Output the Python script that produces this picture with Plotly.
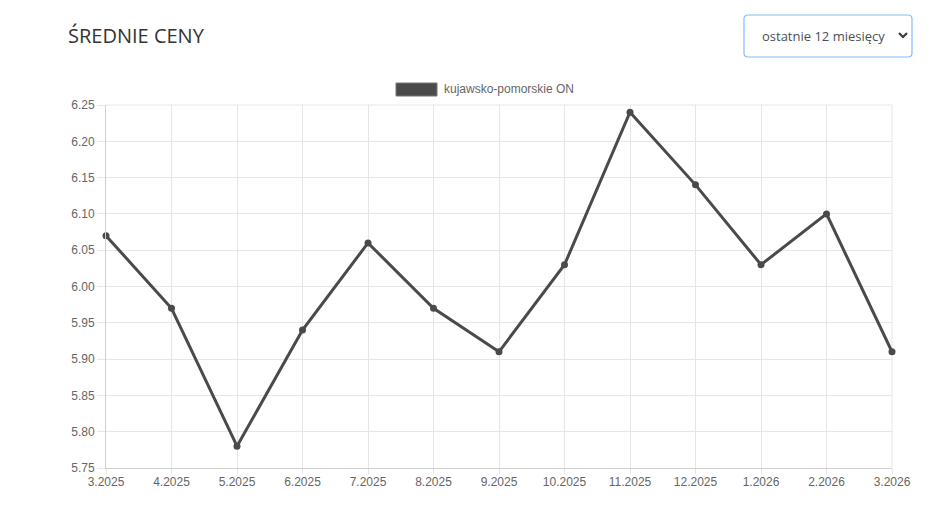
import plotly.graph_objects as go

months = ["3.2025", "4.2025", "5.2025", "6.2025", "7.2025", "8.2025", "9.2025",
          "10.2025", "11.2025", "12.2025", "1.2026", "2.2026", "3.2026"]
prices = [6.07, 5.97, 5.78, 5.94, 6.06, 5.97, 5.91, 6.03, 6.24, 6.14, 6.03, 6.10, 5.91]
y_ticks = [5.75, 5.80, 5.85, 5.90, 5.95, 6.00, 6.05, 6.10, 6.15, 6.20, 6.25]
series_name = "kujawsko-pomorskie ON"
title_text = "ŚREDNIE CENY"
dropdown_text = "ostatnie 12 miesięcy"

OFF = 8  # page body margin
W, H = 937 - 2 * OFF, 507 - 2 * OFF
L, R, T, B = 106, 892, 105, 468  # target page pixel positions


def px(x):
    return (x - L) / (R - L)


def py(y):
    return (B - y) / (B - T)


line_color = "#4a4a4a"
idx = list(range(len(months)))

fig = go.Figure()
fig.add_trace(go.Scatter(
    x=idx, y=prices, mode="lines+markers", name=series_name,
    line=dict(color=line_color, width=3),
    marker=dict(color=line_color, size=7),
    showlegend=False, cliponaxis=False,
))

shapes = []
x0, x1, y0, y1, r = 744, 912, 15, 57, 4
path = (f"M {px(x0 + r)},{py(y0)} L {px(x1 - r)},{py(y0)} Q {px(x1)},{py(y0)} {px(x1)},{py(y0 + r)} "
        f"L {px(x1)},{py(y1 - r)} Q {px(x1)},{py(y1)} {px(x1 - r)},{py(y1)} "
        f"L {px(x0 + r)},{py(y1)} Q {px(x0)},{py(y1)} {px(x0)},{py(y1 - r)} "
        f"L {px(x0)},{py(y0 + r)} Q {px(x0)},{py(y0)} {px(x0 + r)},{py(y0)} Z")
shapes.append(dict(type="path", xref="paper", yref="paper", path=path,
                   line=dict(color="#80bdff", width=1.2), fillcolor="white", layer="above"))
shapes.append(dict(type="path", xref="paper", yref="paper",
                   path=f"M {px(899)},{py(33)} L {px(903)},{py(37)} L {px(907)},{py(33)}",
                   line=dict(color="#343a40", width=2.2), layer="above"))
shapes.append(dict(type="rect", xref="paper", yref="paper",
                   x0=px(396), x1=px(437), y0=py(96), y1=py(83),
                   fillcolor=line_color, line=dict(color="#777777", width=1)))
shapes.append(dict(type="line", xref="paper", yref="paper", x0=1, x1=1, y0=0, y1=1,
                   line=dict(color="#e6e6e6", width=1), layer="below"))
shapes.append(dict(type="line", xref="paper", yref="paper", x0=0, x1=1, y0=1, y1=1,
                   line=dict(color="#e6e6e6", width=1), layer="below"))

annotations = [
    dict(text=title_text, x=px(66), y=py(36), xref="paper", yref="paper",
         xanchor="left", yanchor="middle", showarrow=False,
         font=dict(family="Open Sans", size=20, color="#333333")),
    dict(text=dropdown_text, x=px(760), y=py(36), xref="paper", yref="paper",
         xanchor="left", yanchor="middle", showarrow=False,
         font=dict(family="Open Sans", size=13, color="#495057")),
    dict(text=series_name, x=px(442), y=py(89), xref="paper", yref="paper",
         xanchor="left", yanchor="middle", showarrow=False,
         font=dict(family="Liberation Sans, Arial", size=12, color="#666666")),
]

fig.update_layout(
    width=W, height=H,
    margin=dict(l=L - OFF, r=W - (R - OFF), t=T - OFF, b=H - (B - OFF), pad=0),
    paper_bgcolor="white", plot_bgcolor="white",
    shapes=shapes, annotations=annotations,
    font=dict(family="Liberation Sans, Arial", size=12, color="#666666"),
    xaxis=dict(
        range=[0, len(months) - 1], tickvals=idx, ticktext=months,
        showgrid=True, gridcolor="#e6e6e6", gridwidth=1,
        ticks="outside", ticklen=5, tickcolor="#e6e6e6",
        ticklabelstandoff=-2,
        showline=True, linecolor="#d0d0d0", linewidth=1,
        zeroline=False, tickfont=dict(size=12, color="#666666"),
        automargin=False,
    ),
    yaxis=dict(
        range=[5.75, 6.25], tickvals=y_ticks, ticktext=[f"{v:.2f}" for v in y_ticks],
        showgrid=True, gridcolor="#e6e6e6", gridwidth=1,
        ticks="outside", ticklen=8, tickcolor="#e6e6e6",
        showline=True, linecolor="#d0d0d0", linewidth=1,
        zeroline=False, tickfont=dict(size=12, color="#666666"),
        automargin=False,
    ),
)

fig.write_html("out.html")
